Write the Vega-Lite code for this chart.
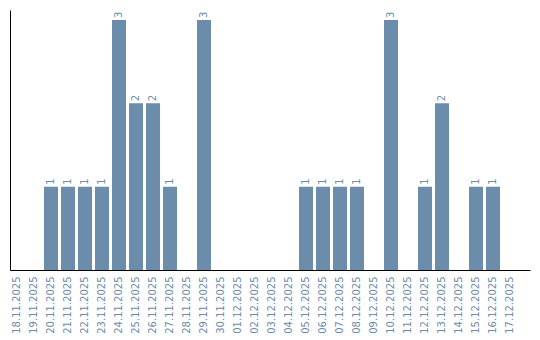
{
  "$schema": "https://vega.github.io/schema/vega-lite/v6.json",
  "width": 520,
  "height": 260,
  "autosize": {"type": "none"},
  "padding": {"left": 10, "top": 10, "right": 10, "bottom": 70},
  "background": "white",
  "config": {
    "view": {"stroke": null},
    "font": "DejaVu Sans"
  },
  "data": {
    "values": [
      {"date": "18.11.2025", "count": 0},
      {"date": "19.11.2025", "count": 0},
      {"date": "20.11.2025", "count": 1},
      {"date": "21.11.2025", "count": 1},
      {"date": "22.11.2025", "count": 1},
      {"date": "23.11.2025", "count": 1},
      {"date": "24.11.2025", "count": 3},
      {"date": "25.11.2025", "count": 2},
      {"date": "26.11.2025", "count": 2},
      {"date": "27.11.2025", "count": 1},
      {"date": "28.11.2025", "count": 0},
      {"date": "29.11.2025", "count": 3},
      {"date": "30.11.2025", "count": 0},
      {"date": "01.12.2025", "count": 0},
      {"date": "02.12.2025", "count": 0},
      {"date": "03.12.2025", "count": 0},
      {"date": "04.12.2025", "count": 0},
      {"date": "05.12.2025", "count": 1},
      {"date": "06.12.2025", "count": 1},
      {"date": "07.12.2025", "count": 1},
      {"date": "08.12.2025", "count": 1},
      {"date": "09.12.2025", "count": 0},
      {"date": "10.12.2025", "count": 3},
      {"date": "11.12.2025", "count": 0},
      {"date": "12.12.2025", "count": 1},
      {"date": "13.12.2025", "count": 2},
      {"date": "14.12.2025", "count": 0},
      {"date": "15.12.2025", "count": 1},
      {"date": "16.12.2025", "count": 1},
      {"date": "17.12.2025", "count": 0}
    ]
  },
  "encoding": {
    "x": {
      "field": "date",
      "type": "ordinal",
      "sort": null,
      "scale": {"paddingInner": 0.176, "paddingOuter": 0.382, "align": 0},
      "axis": {
        "title": null,
        "labelAngle": -90,
        "labelAlign": "right",
        "labelBaseline": "middle",
        "labelColor": "#6b8cab",
        "labelFont": "DejaVu Sans",
        "labelFontSize": 10,
        "labelPadding": 6,
        "ticks": false,
        "domainColor": "#000000",
        "domainWidth": 1,
        "grid": false
      }
    },
    "y": {
      "field": "count",
      "type": "quantitative",
      "scale": {"domain": [0, 3.12], "nice": false},
      "axis": {
        "title": null,
        "labels": false,
        "ticks": false,
        "grid": false,
        "domainColor": "#000000",
        "domainWidth": 1
      }
    }
  },
  "layer": [
    {
      "mark": {"type": "bar", "color": "#6b8cab"}
    },
    {
      "mark": {
        "type": "text",
        "angle": 270,
        "align": "left",
        "baseline": "middle",
        "dx": 2,
        "fontSize": 10,
        "font": "DejaVu Sans",
        "color": "#6b8cab"
      },
      "transform": [{"filter": "datum.count > 0"}],
      "encoding": {"text": {"field": "count", "type": "quantitative"}}
    }
  ]
}
